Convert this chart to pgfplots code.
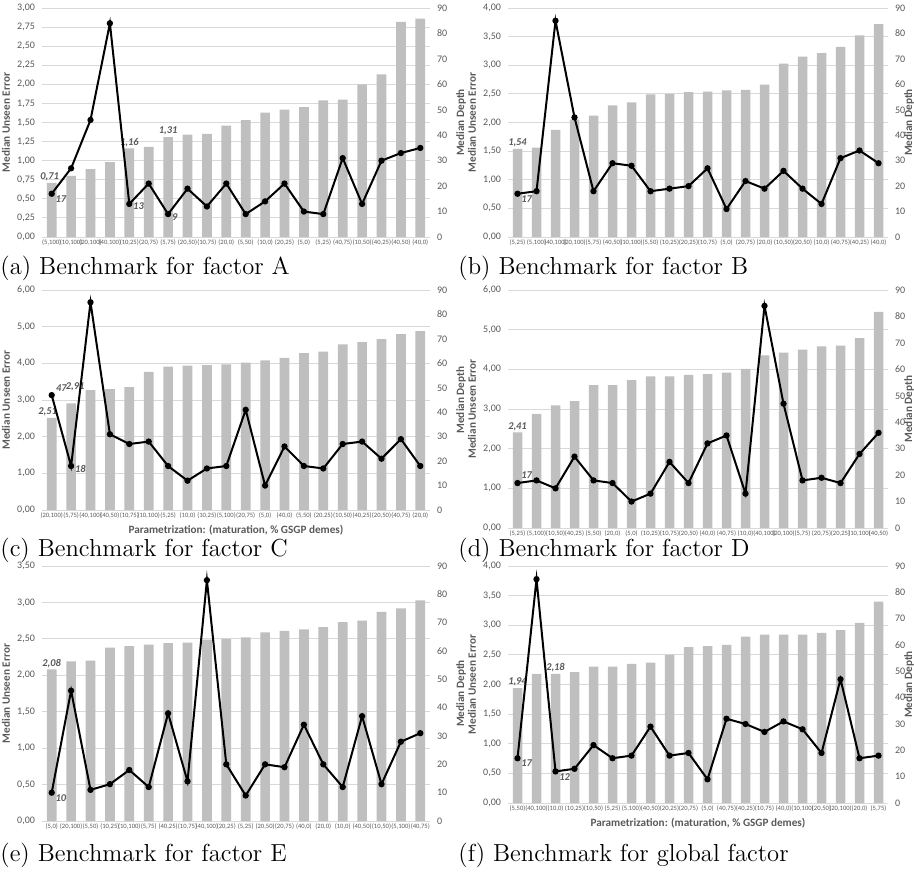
\documentclass[border=0pt]{standalone}
\usepackage{fontspec}
\usepackage{pgfplots}
\usepackage{pgfplotstable}
\pgfplotsset{compat=1.18}
\newfontfamily\chartfont{Carlito}
\definecolor{bargray}{RGB}{191,191,191}
\definecolor{gridgray}{RGB}{217,217,217}
\definecolor{txtgray}{RGB}{89,89,89}

\pgfplotstableread{
lab err dep
(5,100) 0.71 17
(10,100) 0.80 27
(20,100) 0.89 46
(40,100) 0.98 84
(10,25) 1.16 13
(20,75) 1.18 21
(5,75) 1.31 9
(20,50) 1.34 19
(10,75) 1.35 12
(20,0) 1.46 21
(5,50) 1.53 9
(10,0) 1.63 14
(20,25) 1.67 21
(5,0) 1.70 10
(5,25) 1.79 9
(40,75) 1.80 31
(10,50) 2.00 13
(40,25) 2.13 30
(40,50) 2.82 33
(40,0) 2.86 35
}\tA
\pgfplotstableread{
lab err dep
(5,25) 1.54 17
(5,100) 1.56 18
(40,100) 1.87 85
(20,100) 2.05 47
(5,75) 2.12 18
(40,50) 2.30 29
(10,100) 2.35 28
(5,50) 2.49 18
(10,25) 2.50 19
(20,25) 2.53 20
(10,75) 2.54 27
(5,0) 2.56 11
(20,75) 2.57 22
(20,0) 2.66 19
(10,50) 3.03 26
(20,50) 3.15 19
(10,0) 3.21 13
(40,75) 3.32 31
(40,25) 3.52 34
(40,0) 3.72 29
}\tB
\pgfplotstableread{
lab err dep
(20,100) 2.51 47
(5,75) 2.91 18
(40,100) 3.27 85
(40,50) 3.30 31
(10,75) 3.35 27
(10,100) 3.77 28
(5,25) 3.91 18
(10,0) 3.94 12
(10,25) 3.95 17
(5,100) 3.97 18
(20,75) 4.02 41
(5,0) 4.08 10
(40,0) 4.15 26
(5,50) 4.28 18
(20,25) 4.32 17
(10,50) 4.52 27
(40,25) 4.58 28
(20,50) 4.66 21
(40,75) 4.80 29
(20,0) 4.88 18
}\tC
\pgfplotstableread{
lab err dep
(5,25) 2.41 17
(5,100) 2.88 18
(10,50) 3.09 15
(40,25) 3.20 27
(5,50) 3.60 18
(20,0) 3.60 17
(5,0) 3.73 10
(10,25) 3.82 13
(10,75) 3.82 25
(20,50) 3.86 17
(40,0) 3.88 32
(40,75) 3.92 35
(10,0) 4.01 13
(40,100) 4.35 84
(20,100) 4.42 47
(5,75) 4.50 18
(20,75) 4.58 19
(20,25) 4.60 17
(10,100) 4.79 28
(40,50) 5.45 36
}\tD
\pgfplotstableread{
lab err dep
(5,0) 2.08 10
(20,100) 2.19 46
(5,50) 2.20 11
(10,25) 2.38 13
(10,100) 2.40 18
(5,75) 2.42 12
(40,25) 2.44 38
(10,75) 2.45 14
(40,100) 2.49 85
(20,25) 2.50 20
(5,25) 2.52 9
(20,50) 2.59 20
(20,75) 2.61 19
(40,0) 2.63 34
(20,0) 2.66 20
(10,0) 2.73 12
(40,50) 2.75 37
(10,50) 2.87 13
(5,100) 2.92 28
(40,75) 3.03 31
}\tE
\pgfplotstableread{
lab err dep
(5,50) 1.94 17
(40,100) 2.18 85
(10,0) 2.18 12
(10,25) 2.21 13
(10,50) 2.30 22
(5,25) 2.30 17
(5,100) 2.35 18
(40,50) 2.37 29
(20,25) 2.50 18
(20,75) 2.63 19
(5,0) 2.65 9
(40,75) 2.67 32
(40,25) 2.81 30
(10,75) 2.84 27
(40,0) 2.84 31
(10,100) 2.84 28
(20,50) 2.87 19
(20,100) 2.92 47
(20,0) 3.04 17
(5,75) 3.40 18
}\tF

\tikzset{ann/.style={font=\chartfont\bfseries\itshape\fontsize{5.2}{6}\selectfont, text=txtgray, inner sep=0.8pt}}
\pgfplotsset{
  common/.style={scale only axis, xmin=-0.5, xmax=19.5,
    anchor=south west, major tick length=0pt, clip=false,
    /pgf/number format/assume math mode=true,
    tick label style={font=\chartfont\fontsize{5}{6}\selectfont, text=txtgray},
    label style={font=\chartfont\bfseries\fontsize{5.6}{6.5}\selectfont, text=txtgray},
    axis line style={draw=none}},
  barax/.style={common, ymin=0, ymajorgrids,
    grid style={draw=gridgray, line width=0.5pt},
    xtick={0,...,19},
    xticklabel style={font=\chartfont\fontsize{3.3}{3.8}\selectfont, inner sep=1pt},
    yticklabel style={/pgf/number format/.cd, fixed, fixed zerofill, precision=2, use comma},
    ylabel={Median Unseen Error},
    ylabel style={at={(rel axis cs:0,0.5)}, anchor=center, yshift=18pt}},
  lineax/.style={common, ymin=0, ymax=90, ytick={0,10,...,90},
    axis x line=none, axis y line*=right, ylabel={Median Depth},
    ylabel style={at={(rel axis cs:1,0.5)}, anchor=center, yshift=-15.5pt}},
  rightcol/.style={ylabel style={yshift=5pt}},
  bars/.style={ybar, bar width=0.5, fill=bargray, draw=none},
  dline/.style={black, line width=1pt, mark=*, mark size=1.05pt},
}

\begin{document}
\begin{tikzpicture}
\useasboundingbox (0,0) rectangle (457pt,-436.5pt);
% ---------- (a)
\begin{axis}[barax, at={(21pt,-118.5pt)}, width=194pt, height=114.5pt, ymax=3, ytick={0,0.25,...,3},
  xticklabels from table={\tA}{lab}]
\addplot[bars] table[x expr=\coordindex, y=err]{\tA};
\node[ann, anchor=south, xshift=-1pt] at (axis cs:0,0.71) {0,71};
\node[ann, anchor=south] at (axis cs:4,1.16) {1,16};
\node[ann, anchor=south] at (axis cs:6,1.31) {1,31};
\end{axis}
\begin{axis}[lineax, at={(21pt,-118.5pt)}, width=194pt, height=114.5pt]
\addplot[dline] table[x expr=\coordindex, y=dep]{\tA};
\node[ann, anchor=west] at (axis cs:0.1,15) {17};
\node[ann, anchor=west] at (axis cs:4.1,12) {13};
\node[ann, anchor=west] at (axis cs:6.1,8) {9};
\end{axis}
% ---------- (b)
\begin{axis}[barax, at={(254pt,-118.5pt)}, width=190pt, height=114.5pt, ymax=4, ytick={0,0.5,...,4},
  xticklabels from table={\tB}{lab}]
\addplot[bars] table[x expr=\coordindex, y=err]{\tB};
\node[ann, anchor=south] at (axis cs:0,1.54) {1,54};
\end{axis}
\begin{axis}[lineax, rightcol, at={(254pt,-118.5pt)}, width=190pt, height=114.5pt]
\addplot[dline] table[x expr=\coordindex, y=dep]{\tB};
\node[ann, anchor=west] at (axis cs:0.1,15) {17};
\end{axis}
% ---------- (c)
\begin{axis}[barax, at={(21pt,-255pt)}, width=194pt, height=110pt, ymax=6, ytick={0,1,...,6},
  xticklabels from table={\tC}{lab},
  xlabel={Parametrization: (maturation, \% GSGP demes)},
  xlabel style={yshift=1pt}]
\addplot[bars] table[x expr=\coordindex, y=err]{\tC};
\node[ann, anchor=south, xshift=-2pt] at (axis cs:0,2.51) {2,51};
\node[ann, anchor=south, yshift=5pt, xshift=2pt] at (axis cs:1,2.91) {2,91};
\end{axis}
\begin{axis}[lineax, at={(21pt,-255pt)}, width=194pt, height=110pt]
\addplot[dline] table[x expr=\coordindex, y=dep]{\tC};
\node[ann, anchor=west] at (axis cs:0.12,50) {47};
\node[ann, anchor=west] at (axis cs:1.1,17) {18};
\end{axis}
% ---------- (d)
\begin{axis}[barax, at={(254pt,-264pt)}, width=190pt, height=119pt, ymax=6, ytick={0,1,...,6},
  xticklabels from table={\tD}{lab}]
\addplot[bars] table[x expr=\coordindex, y=err]{\tD};
\node[ann, anchor=south] at (axis cs:0,2.41) {2,41};
\end{axis}
\begin{axis}[lineax, rightcol, at={(254pt,-264pt)}, width=190pt, height=119pt]
\addplot[dline] table[x expr=\coordindex, y=dep]{\tD};
\node[ann, anchor=west] at (axis cs:0.1,20) {17};
\end{axis}
% ---------- (e)
\begin{axis}[barax, at={(21pt,-410.5pt)}, width=194pt, height=127.5pt, ymax=3.5, ytick={0,0.5,...,3.5},
  xticklabels from table={\tE}{lab}]
\addplot[bars] table[x expr=\coordindex, y=err]{\tE};
\node[ann, anchor=south] at (axis cs:0,2.08) {2,08};
\end{axis}
\begin{axis}[lineax, at={(21pt,-410.5pt)}, width=194pt, height=127.5pt]
\addplot[dline] table[x expr=\coordindex, y=dep]{\tE};
\node[ann, anchor=west] at (axis cs:0.1,8) {10};
\end{axis}
% ---------- (f)
\begin{axis}[barax, at={(254pt,-401.5pt)}, width=190pt, height=118.5pt, ymax=4, ytick={0,0.5,...,4},
  xticklabels from table={\tF}{lab},
  xlabel={Parametrization: (maturation, \% GSGP demes)},
  xlabel style={yshift=1pt}]
\addplot[bars] table[x expr=\coordindex, y=err]{\tF};
\node[ann, anchor=south] at (axis cs:0,1.94) {1,94};
\node[ann, anchor=south] at (axis cs:2,2.18) {2,18};
\end{axis}
\begin{axis}[lineax, rightcol, at={(254pt,-401.5pt)}, width=190pt, height=118.5pt]
\addplot[dline] table[x expr=\coordindex, y=dep]{\tF};
\node[ann, anchor=west] at (axis cs:0.1,15) {17};
\node[ann, anchor=west] at (axis cs:2.1,10) {12};
\end{axis}
% ---------- captions
\begin{scope}[every node/.style={anchor=west, font=\fontsize{12.3}{14}\selectfont, inner sep=0pt}]
\node at (0pt,-134pt) {(a) Benchmark for factor A};
\node at (229pt,-134pt) {(b) Benchmark for factor B};
\node at (0pt,-275pt) {(c) Benchmark for factor C};
\node at (229pt,-275pt) {(d) Benchmark for factor D};
\node at (0pt,-427.5pt) {(e) Benchmark for factor E};
\node at (229pt,-427.5pt) {(f) Benchmark for global factor};
\end{scope}
\end{tikzpicture}
\end{document}
